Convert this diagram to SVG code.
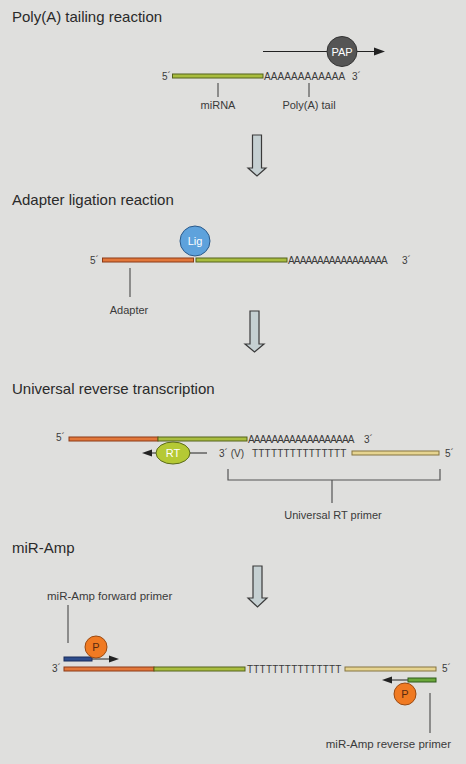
<svg xmlns="http://www.w3.org/2000/svg" width="466" height="764" viewBox="0 0 466 764">
<style>
text{font-family:"Liberation Sans",Arial,sans-serif;fill:#3a3a3a}
.title{font-size:15px;fill:#2a2a2a}
.s{font-size:10px}
.m{font-size:11px}
.l{font-size:11.5px}
.c{text-anchor:middle}
.tick{stroke:#555;stroke-width:1.2;fill:none}
.line{stroke:#222;stroke-width:1;fill:none}
.green{fill:#a9bd3e;stroke:#55621c;stroke-width:1}
.orange{fill:#e2773a;stroke:#8c3a16;stroke-width:1}
.tan{fill:#e6d490;stroke:#857440;stroke-width:1}
.blue{fill:#2d4c8c;stroke:#1a2c5a;stroke-width:1}
.down{fill:#c5d0d2;stroke:#3a3a3a;stroke-width:1.2}
.pc{fill:#f07a22;stroke:#9a4a12;stroke-width:1}
.ah{fill:#222}
</style>
<rect x="0" y="0" width="466" height="764" fill="#dfdfdd"/>

<g id="titles">
<text class="title" x="12" y="22">Poly(A) tailing reaction</text>
<text class="title" x="12" y="205">Adapter ligation reaction</text>
<text class="title" x="12" y="394">Universal reverse transcription</text>
<text class="title" x="12" y="553">miR-Amp</text>
</g>

<g id="connectors">
<line class="line" x1="263" y1="51.5" x2="377" y2="51.5"/>
<polygon class="ah" points="385,51.5 374,47.5 374,55.5"/>
<line class="tick" x1="218" y1="83" x2="218" y2="97"/>
<line class="tick" x1="309" y1="83" x2="309" y2="97"/>
<line class="tick" x1="130" y1="268" x2="130" y2="297"/>
<line class="line" x1="150" y1="453" x2="207" y2="453"/>
<polygon class="ah" points="142,453 152,449.5 152,456.5"/>
<path class="tick" d="M228,469 V480 H440 V469 M332,480 V503"/>
<line class="tick" x1="68" y1="605" x2="68" y2="643"/>
<line class="line" x1="92" y1="659" x2="111" y2="659"/>
<polygon class="ah" points="119,659 109,655.5 109,662.5"/>
<line class="line" x1="390" y1="680" x2="408" y2="680"/>
<polygon class="ah" points="382,680 392,676.5 392,683.5"/>
<line class="tick" x1="430" y1="693" x2="430" y2="733"/>
<polygon id="arrow1" class="down" points="252.5,135 261.5,135 261.5,168 266,168 257,176 248,168 252.5,168"/>
<polygon id="arrow2" class="down" points="250,311 259,311 259,344 264,344 254.5,352 245,344 250,344"/>
<polygon id="arrow3" class="down" points="253,566 262,566 262,598 267,598 257.5,607 248,598 253,598"/>
</g>

<g id="tailing">
<text class="s" x="162" y="80">5´</text>
<rect class="green" x="172.5" y="74" width="90.5" height="4"/>
<text class="s" x="264" y="80" letter-spacing="0.1">AAAAAAAAAAAA</text>
<text class="s" x="352" y="80">3´</text>
<text class="m c" x="218" y="109">miRNA</text>
<text class="m c" x="309" y="109">Poly(A) tail</text>
</g>
<g id="pap">
<circle cx="342" cy="51.5" r="15" fill="#555" stroke="#333" stroke-width="1"/>
<text class="m c" x="342" y="55.5" style="fill:#fff">PAP</text>
</g>

<g id="ligation">
<text class="s" x="90" y="264">5´</text>
<rect class="orange" x="102.5" y="258" width="91" height="4"/>
<rect class="green" x="196" y="258" width="91" height="4"/>
<text class="s" x="288" y="264" letter-spacing="-0.85">AAAAAAAAAAAAAAAAA</text>
<text class="s" x="402" y="264">3´</text>
<text class="m c" x="129" y="314">Adapter</text>
</g>
<g id="lig">
<circle cx="195" cy="241" r="15" fill="#5ea2dc" stroke="#2c5a8a" stroke-width="1"/>
<text class="m c" x="195" y="245" style="fill:#fff">Lig</text>
</g>

<g id="rt-template">
<text class="s" x="56" y="441">5´</text>
<rect class="orange" x="69" y="437" width="89" height="4"/>
<rect class="green" x="158" y="437" width="89" height="4"/>
<text class="s" x="248" y="443" letter-spacing="-0.8">AAAAAAAAAAAAAAAAAA</text>
<text class="s" x="364" y="443">3´</text>
</g>
<g id="rt-primer">
<text class="s" x="219" y="457">3´ (V)</text>
<text class="s" x="252" y="457" letter-spacing="0.2">TTTTTTTTTTTTTTT</text>
<rect class="tan" x="352" y="451" width="87" height="4"/>
<text class="s" x="445" y="457">5´</text>
<text class="m c" x="333" y="519">Universal RT primer</text>
</g>
<g id="rt">
<ellipse cx="173" cy="453" rx="17" ry="11" fill="#b5c934" stroke="#5a6a1a" stroke-width="1"/>
<text class="m c" x="173" y="457" style="fill:#fff">RT</text>
</g>

<g id="amp-strand">
<text class="s" x="52" y="672">3´</text>
<rect class="orange" x="64" y="667" width="90" height="4"/>
<rect class="green" x="154" y="667" width="91" height="4"/>
<text class="s" x="247" y="673" letter-spacing="0.2">TTTTTTTTTTTTTTT</text>
<rect class="tan" x="345" y="667" width="91" height="4"/>
<text class="s" x="442" y="672">5´</text>
</g>
<g id="forward-primer">
<text class="l" x="47" y="600">miR-Amp forward primer</text>
<rect class="blue" x="64" y="657" width="28" height="4"/>
<circle class="pc" cx="96" cy="647" r="11"/>
<text class="m c" x="96" y="651" style="fill:#5a2a10">P</text>
</g>
<g id="reverse-primer">
<rect class="green" x="408" y="678" width="28" height="4" style="fill:#6aa83a;stroke:#2e5a1a"/>
<circle class="pc" cx="405" cy="694" r="11"/>
<text class="m c" x="405" y="698" style="fill:#5a2a10">P</text>
<text class="l" x="451" y="748" style="text-anchor:end">miR-Amp reverse primer</text>
</g>
</svg>
